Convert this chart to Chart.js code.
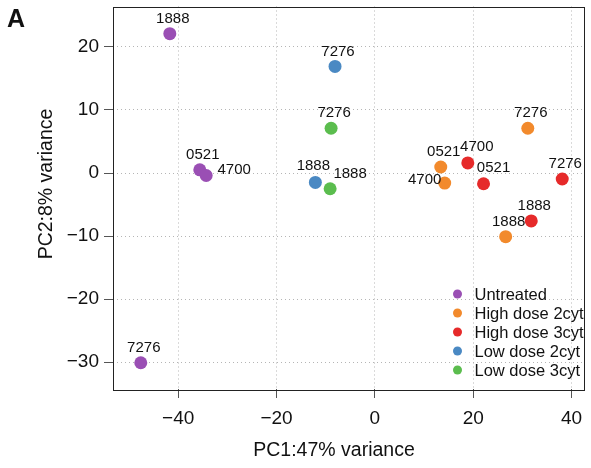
<!DOCTYPE html>
<html>
<head>
<meta charset="utf-8">
<script src="https://cdn.jsdelivr.net/npm/chart.js@4.4.0/dist/chart.umd.min.js"></script>
<style>
  html, body { margin: 0; padding: 0; background: #fff; }
  #wrap { width: 591px; height: 468px; }
</style>
</head>
<body>
<div id="wrap"><canvas id="pca" width="591" height="468"></canvas></div>
<script>
// PCA scores, one group per array set
const groupNames = ['Untreated', 'High dose 2cyt', 'High dose 3cyt', 'Low dose 2cyt', 'Low dose 3cyt'];

const untreatedIds = ['1888', '0521', '4700', '7276'];
const untreatedPC1 = [-41.7, -35.6, -34.3, -47.6];
const untreatedPC2 = [22.1, 0.5, -0.4, -30.1];

const high2Ids = ['0521', '4700', '7276', '1888'];
const high2PC1 = [13.4, 14.2, 31.1, 26.6];
const high2PC2 = [0.95, -1.6, 7.1, -10.1];

const high3Ids = ['4700', '0521', '7276', '1888'];
const high3PC1 = [18.9, 22.1, 38.1, 31.8];
const high3PC2 = [1.6, -1.7, -0.95, -7.6];

const low2Ids = ['7276', '1888'];
const low2PC1 = [-8.1, -12.1];
const low2PC2 = [16.9, -1.5];

const low3Ids = ['7276', '1888'];
const low3PC1 = [-8.9, -9.1];
const low3PC2 = [7.1, -2.5];

const xTicks = [-40, -20, 0, 20, 40];
const yTicks = [-30, -20, -10, 0, 10, 20];

const groupColors = ['#9a4fb4', '#f28a2c', '#e62a2a', '#4a89c3', '#5bbd4e'];
const FONT = '"Liberation Sans", Arial, Helvetica, sans-serif';

// where a sample label sits relative to its dot (px); default is just above
const labelShift = {
    'Untreated/4700': [28, -6],
    'Low dose 2cyt/1888': [-2, -17],
    'Low dose 3cyt/1888': [20, -15],
    'High dose 2cyt/4700': [-20, -3],
    'High dose 3cyt/4700': [9, -16],
    'High dose 3cyt/0521': [10, -16]
};

function toPoints(xs, ys) {
    return xs.map((x, i) => ({ x: x, y: ys[i] }));
}

const groups = [
    [untreatedIds, untreatedPC1, untreatedPC2],
    [high2Ids, high2PC1, high2PC2],
    [high3Ids, high3PC1, high3PC2],
    [low2Ids, low2PC1, low2PC2],
    [low3Ids, low3PC1, low3PC2]
];

const datasets = groups.map((g, k) => ({
    label: groupNames[k],
    ids: g[0],
    data: toPoints(g[1], g[2]),
    backgroundColor: groupColors[k],
    borderWidth: 0,
    pointRadius: 6.5,
    pointHoverRadius: 6.5
}));

const pcaDecor = {
    id: 'pcaDecor',
    beforeDatasetsDraw(chart) {
        const ctx = chart.ctx;
        const a = chart.chartArea;
        ctx.save();
        ctx.strokeStyle = '#222';
        ctx.lineWidth = 1;
        ctx.strokeRect(Math.round(a.left) + 0.5, Math.round(a.top) + 0.5,
            Math.round(a.right - a.left) - 1, Math.round(a.bottom - a.top));
        ctx.restore();
    },
    afterDatasetsDraw(chart) {
        const ctx = chart.ctx;
        ctx.save();
        ctx.font = '15px ' + FONT;
        ctx.fillStyle = '#111';
        ctx.textAlign = 'center';
        ctx.textBaseline = 'middle';
        chart.data.datasets.forEach((ds, di) => {
            chart.getDatasetMeta(di).data.forEach((pt, i) => {
                const id = ds.ids[i];
                const s = labelShift[ds.label + '/' + id] || [3, -15];
                ctx.fillText(id, pt.x + s[0], pt.y + s[1]);
            });
        });
        ctx.restore();
    },
    afterDraw(chart) {
        const ctx = chart.ctx;
        const a = chart.chartArea;
        ctx.save();

        // legend inside the bottom right corner
        ctx.font = '16.5px ' + FONT;
        ctx.textAlign = 'left';
        ctx.textBaseline = 'middle';
        chart.data.datasets.forEach((ds, i) => {
            const y = a.bottom - 95 + i * 19;
            ctx.fillStyle = ds.backgroundColor;
            ctx.beginPath();
            ctx.arc(a.right - 127, y, 4.5, 0, Math.PI * 2);
            ctx.fill();
            ctx.fillStyle = '#111';
            ctx.fillText(ds.label, a.right - 110, y + 1);
        });

        // axis titles
        ctx.font = '19.5px ' + FONT;
        ctx.textAlign = 'center';
        ctx.fillText('PC1:47% variance', 334, 451);
        ctx.translate(47, 184);
        ctx.rotate(-Math.PI / 2);
        ctx.fillText('PC2:8% variance', 0, 0);
        ctx.setTransform(1, 0, 0, 1, 0, 0);

        // panel letter
        ctx.font = 'bold 25px ' + FONT;
        ctx.textAlign = 'left';
        ctx.textBaseline = 'alphabetic';
        ctx.fillText('A', 7, 27);
        ctx.restore();
    }
};

const gridStyle = {
    color: '#b5b5b5',
    lineWidth: 1,
    tickLength: 9,
    tickColor: '#555',
    tickWidth: 1,
    tickBorderDash: []
};

const chart = new Chart(document.getElementById('pca').getContext('2d'), {
    type: 'scatter',
    data: { datasets: datasets },
    options: {
        responsive: false,
        animation: false,
        layout: { padding: { top: 6, right: 5, left: 0, bottom: 0 } },
        plugins: {
            legend: { display: false },
            tooltip: { enabled: false }
        },
        scales: {
            x: {
                type: 'linear',
                min: -53.25,
                max: 42.63,
                afterBuildTicks: s => { s.ticks = xTicks.map(v => ({ value: v })); },
                afterFit: s => {
                    s.height = 79;
                    s.paddingLeft = 0;
                    s.paddingRight = 0;
                },
                grid: gridStyle,
                border: { display: false, dash: [1, 3] },
                ticks: {
                    font: { family: FONT, size: 19 },
                    color: '#111',
                    padding: 9,
                    maxRotation: 0,
                    callback: v => String(v).replace('-', '\u2212')
                }
            },
            y: {
                type: 'linear',
                min: -34.26,
                max: 26.41,
                afterBuildTicks: s => { s.ticks = yTicks.map(v => ({ value: v })); },
                afterFit: s => {
                    s.width = 113;
                    s.paddingTop = 0;
                    s.paddingBottom = 0;
                },
                grid: gridStyle,
                border: { display: false, dash: [1, 3] },
                ticks: {
                    font: { family: FONT, size: 19 },
                    color: '#111',
                    padding: 5,
                    callback: v => String(v).replace('-', '\u2212')
                }
            }
        }
    },
    plugins: [pcaDecor]
});
</script>
</body>
</html>
